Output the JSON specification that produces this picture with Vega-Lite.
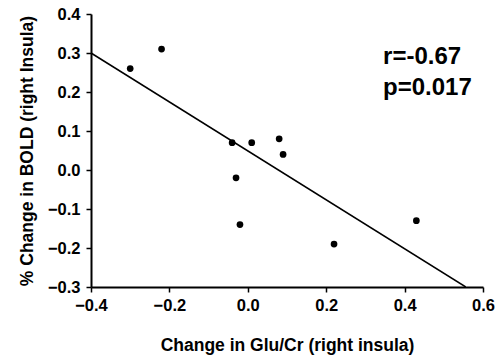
{
  "$schema": "https://vega.github.io/schema/vega-lite/v6.json",
  "autosize": "none",
  "width": 392,
  "height": 273,
  "padding": {"left": 91, "top": 14, "right": 20, "bottom": 77},
  "background": "white",
  "config": {
    "view": {"stroke": null},
    "font": "Liberation Sans",
    "axis": {
      "grid": false,
      "domainColor": "black",
      "domainWidth": 2,
      "tickColor": "black",
      "tickWidth": 1.5,
      "tickSize": 5,
      "labelOverlap": false,
      "labelFlush": false,
      "labelFont": "Liberation Sans",
      "labelFontSize": 16.5,
      "labelFontWeight": "bold",
      "labelColor": "black",
      "titleFont": "Liberation Sans",
      "titleFontSize": 17.5,
      "titleFontWeight": "bold",
      "titleColor": "black"
    }
  },
  "datasets": {
    "points": [
      {"glu": -0.30, "bold": 0.26},
      {"glu": -0.22, "bold": 0.31},
      {"glu": -0.04, "bold": 0.07},
      {"glu": 0.01, "bold": 0.07},
      {"glu": 0.08, "bold": 0.08},
      {"glu": 0.09, "bold": 0.04},
      {"glu": -0.03, "bold": -0.02},
      {"glu": -0.02, "bold": -0.14},
      {"glu": 0.22, "bold": -0.19},
      {"glu": 0.43, "bold": -0.13}
    ],
    "fit": [
      {"glu": -0.4, "bold": 0.3},
      {"glu": 0.556, "bold": -0.3}
    ],
    "labels": [
      {"glu": 0.345, "bold": 0.289, "text": "r=-0.67"},
      {"glu": 0.345, "bold": 0.21, "text": "p=0.017"}
    ]
  },
  "layer": [
    {
      "data": {"name": "fit"},
      "mark": {"type": "line", "color": "black", "strokeWidth": 1.5, "clip": true},
      "encoding": {
        "x": {"field": "glu", "type": "quantitative", "scale": {"domain": [-0.4, 0.6], "nice": false, "zero": false},
              "axis": {"tickCount": 5, "format": ".1f", "labelOverlap": false, "title": "Change in Glu/Cr (right insula)", "titlePadding": 23, "labelPadding": 5}},
        "y": {"field": "bold", "type": "quantitative", "scale": {"domain": [-0.3, 0.4], "nice": false, "zero": false},
              "axis": {"tickCount": 7, "format": ".1f", "labelOverlap": false, "title": "% Change in BOLD (right Insula)", "titlePadding": 11, "labelPadding": 6}}
      }
    },
    {
      "data": {"name": "points"},
      "mark": {"type": "circle", "color": "black", "opacity": 1, "size": 45},
      "encoding": {
        "x": {"field": "glu", "type": "quantitative"},
        "y": {"field": "bold", "type": "quantitative"}
      }
    },
    {
      "data": {"name": "labels"},
      "mark": {"type": "text", "align": "left", "baseline": "middle", "fontSize": 24, "fontWeight": "bold", "font": "Liberation Sans", "color": "black"},
      "encoding": {
        "x": {"field": "glu", "type": "quantitative"},
        "y": {"field": "bold", "type": "quantitative"},
        "text": {"field": "text"}
      }
    }
  ]
}
